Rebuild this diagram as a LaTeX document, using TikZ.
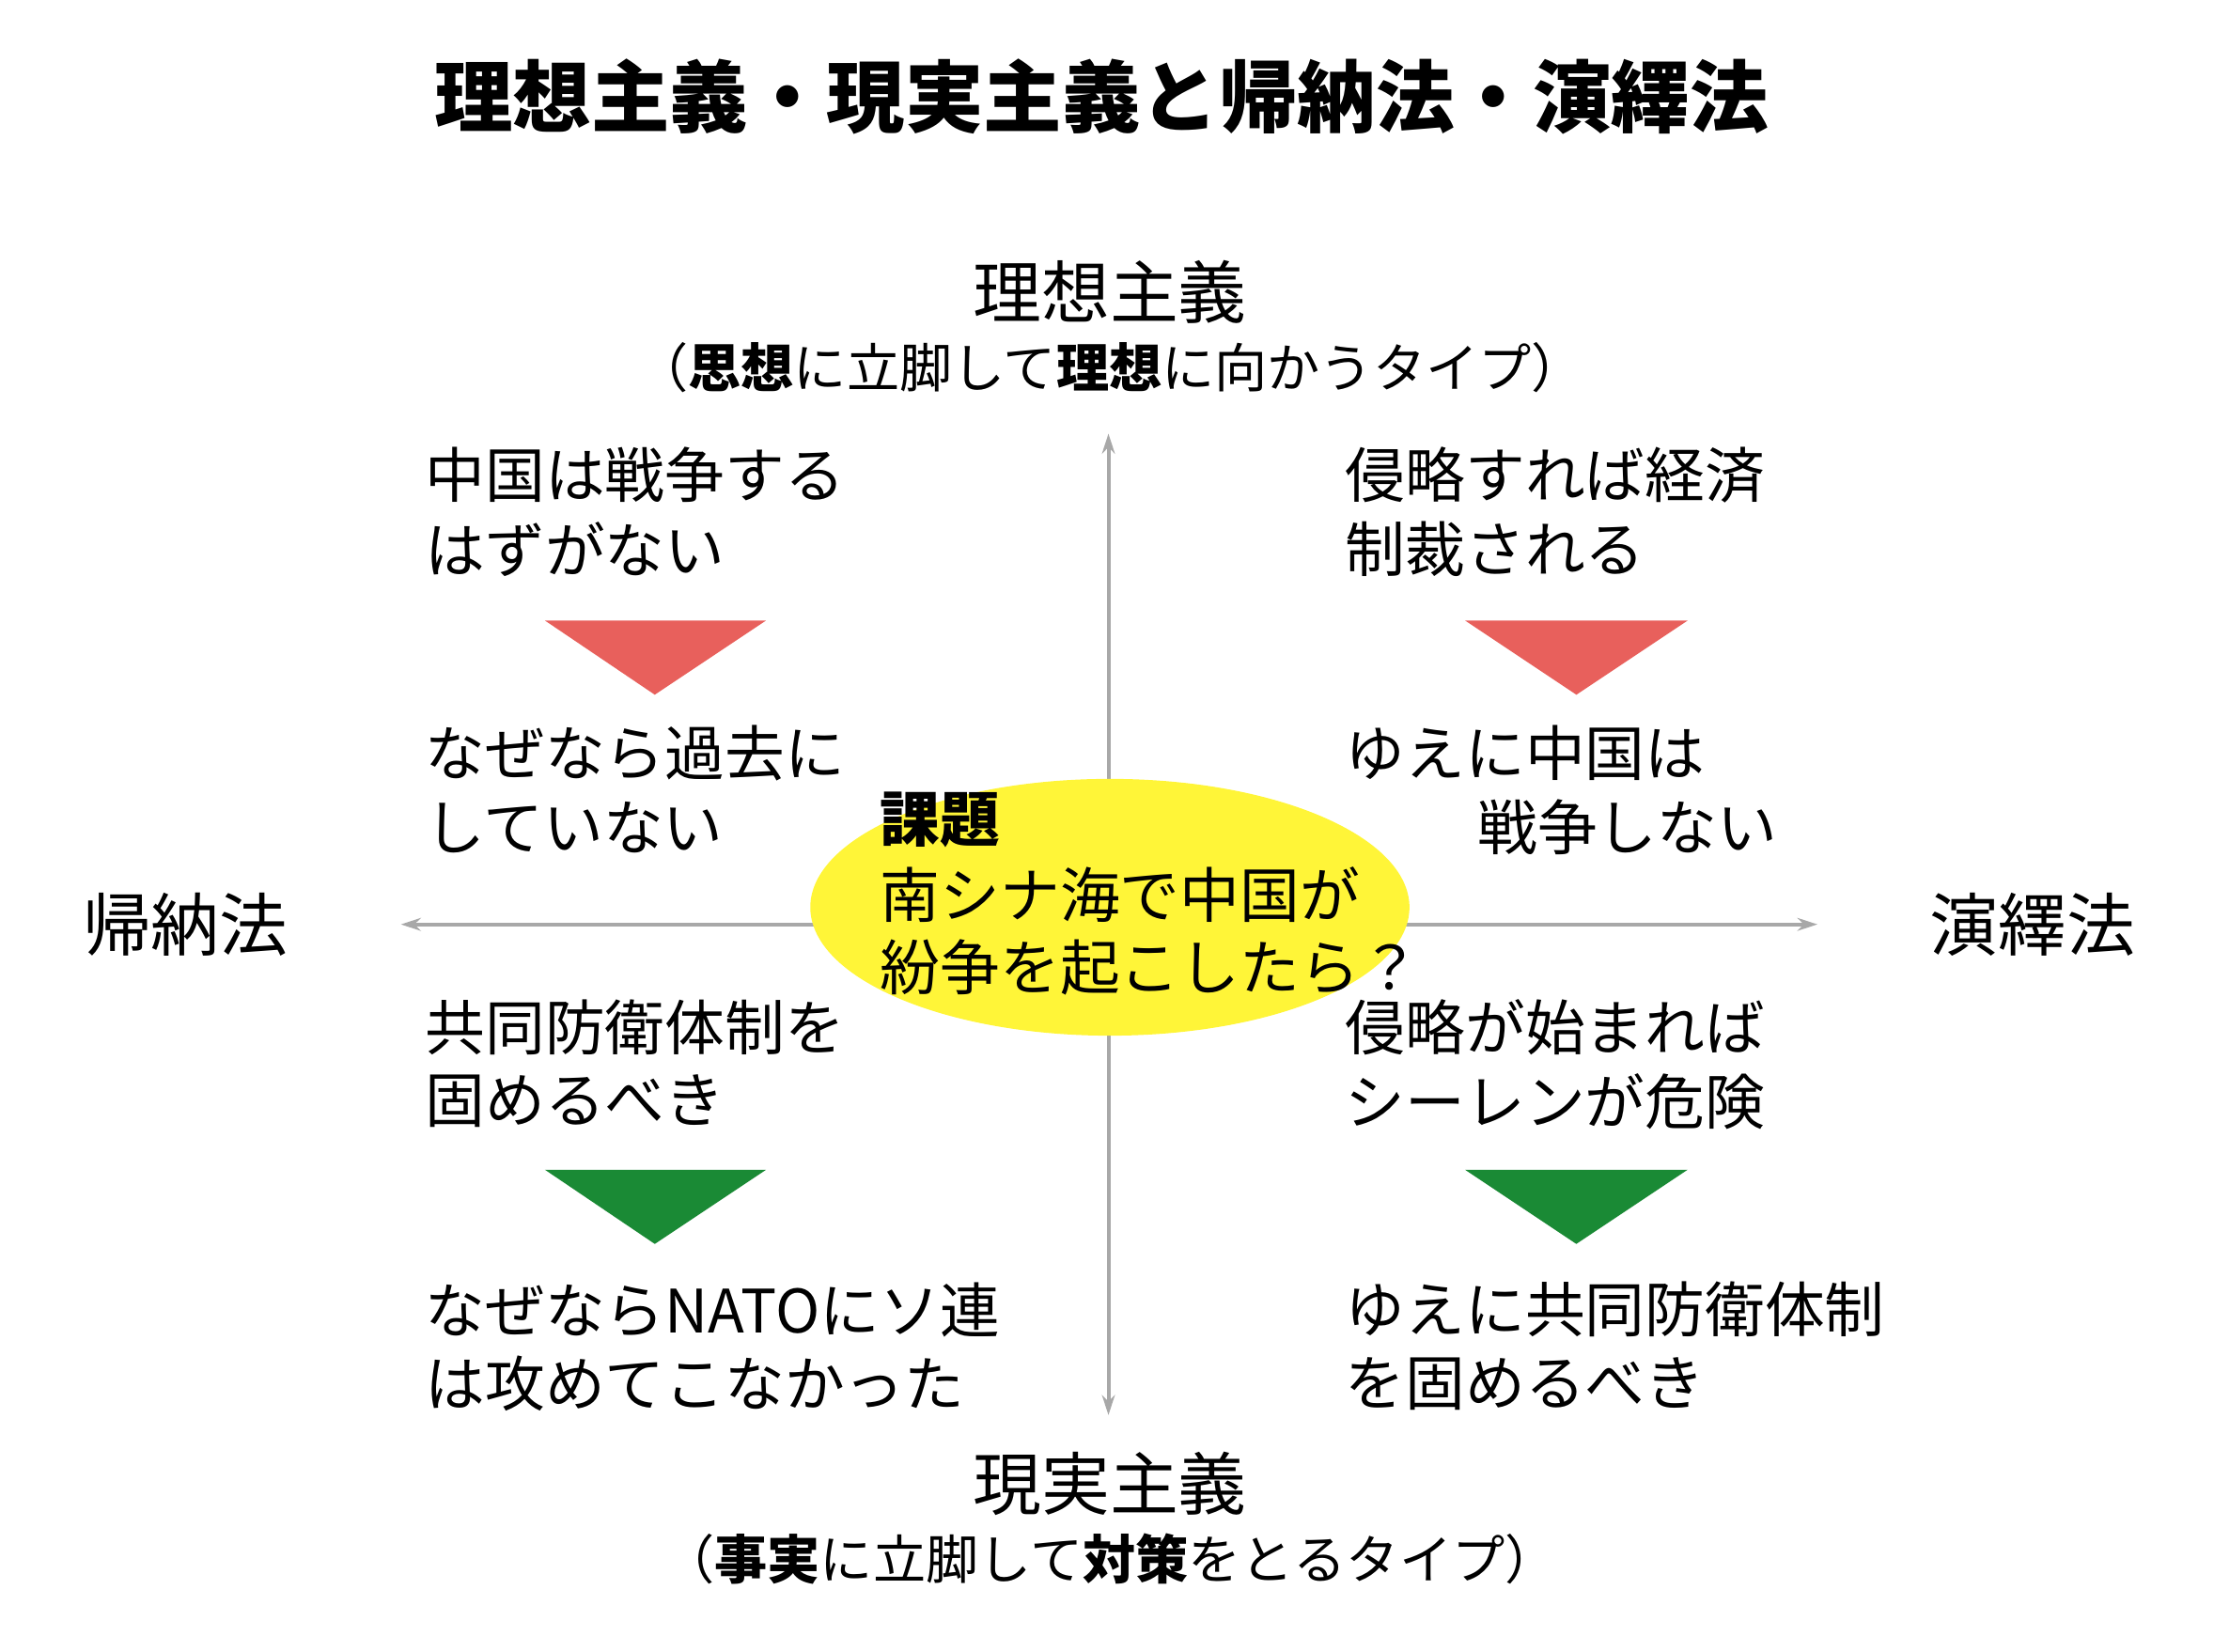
\documentclass[tikz,border=0pt]{standalone}
\usepackage{fontspec}
\setmainfont{Noto Sans CJK JP}
\usetikzlibrary{arrows.meta,shapes.geometric}
\definecolor{tri-red}{HTML}{E8605C}
\definecolor{tri-green}{HTML}{1A8A35}
\definecolor{ell}{HTML}{FFF538}
\definecolor{axis}{HTML}{A8A8A8}
\newcommand{\fs}[1]{\fontsize{#1}{#1}\selectfont}
\begin{document}
\begin{tikzpicture}[x=1pt,y=-1pt,
  body/.style={anchor=west,inner sep=0pt,font=\fs{42}},
  axlab/.style={inner sep=0pt,font=\fs{48}},
  sub/.style={inner sep=0pt,font=\fs{37}},
  ax/.style={draw=axis,line width=2.6pt,-{Stealth[length=14pt,width=9pt]}}]
\useasboundingbox (0,0) rectangle (1552,1158);
\node[inner sep=0pt,font=\fs{55}\bfseries] (title) at (772,68) {理想主義・現実主義と帰納法・演繹法};
\node[axlab] (ideal) at (778,205) {理想主義};
\node[sub] (idealsub) at (778,258) {（\textbf{思想}に立脚して\textbf{理想}に向かうタイプ）};
\node[axlab] (real) at (778,1040) {現実主義};
\node[sub] (realsub) at (778,1093) {（\textbf{事実}に立脚して\textbf{対策}をとるタイプ）};
\node[axlab] (ind) at (130,648) {帰納法};
\node[axlab] (ded) at (1425,648) {演繹法};
\coordinate (c) at (777,648);
\coordinate (top) at (777,304);
\coordinate (bot) at (777,992);
\coordinate (left) at (281,648);
\coordinate (right) at (1274,648);
\draw[ax] (c) -- (top);
\draw[ax] (c) -- (bot);
\draw[ax] (c) -- (left);
\draw[ax] (c) -- (right);
\node[ellipse,fill=ell,minimum width=420pt,minimum height=180pt,inner sep=0pt] (e) at (778,636) {};
\node[body,font=\fs{42}\bfseries] (k1) at (617,575) {課題};
\node[body] (k2) at (617,627) {南シナ海で中国が};
\node[body] (k3) at (617,678) {紛争を起こしたら？};
% top-left
\node[body] (tl1) at (298,333) {中国は戦争する};
\node[body] (tl2) at (298,385) {はずがない};
\fill[tri-red] (382,435) -- (537,435) -- (459,487) -- cycle;
\node[body] (tl3) at (298,528) {なぜなら過去に};
\node[body] (tl4) at (298,580) {していない};
% top-right
\node[body] (tr1) at (943,333) {侵略すれば経済};
\node[body] (tr2) at (943,385) {制裁される};
\fill[tri-red] (1027,435) -- (1183,435) -- (1105,487) -- cycle;
\node[body] (tr3) at (943,528) {ゆえに中国は};
\node[body,anchor=east] (tr4) at (1246,580) {戦争しない};
% bottom-left
\node[body] (bl1) at (298,720) {共同防衛体制を};
\node[body] (bl2) at (298,772) {固めるべき};
\fill[tri-green] (382,820) -- (537,820) -- (459,872) -- cycle;
\node[body] (bl3) at (298,918) {なぜならNATOにソ連};
\node[body] (bl4) at (298,970) {は攻めてこなかった};
% bottom-right
\node[body] (br1) at (943,720) {侵略が始まれば};
\node[body] (br2) at (943,772) {シーレンが危険};
\fill[tri-green] (1027,820) -- (1183,820) -- (1105,872) -- cycle;
\node[body] (br3) at (943,918) {ゆえに共同防衛体制};
\node[body] (br4) at (943,970) {を固めるべき};
\end{tikzpicture}
\end{document}
